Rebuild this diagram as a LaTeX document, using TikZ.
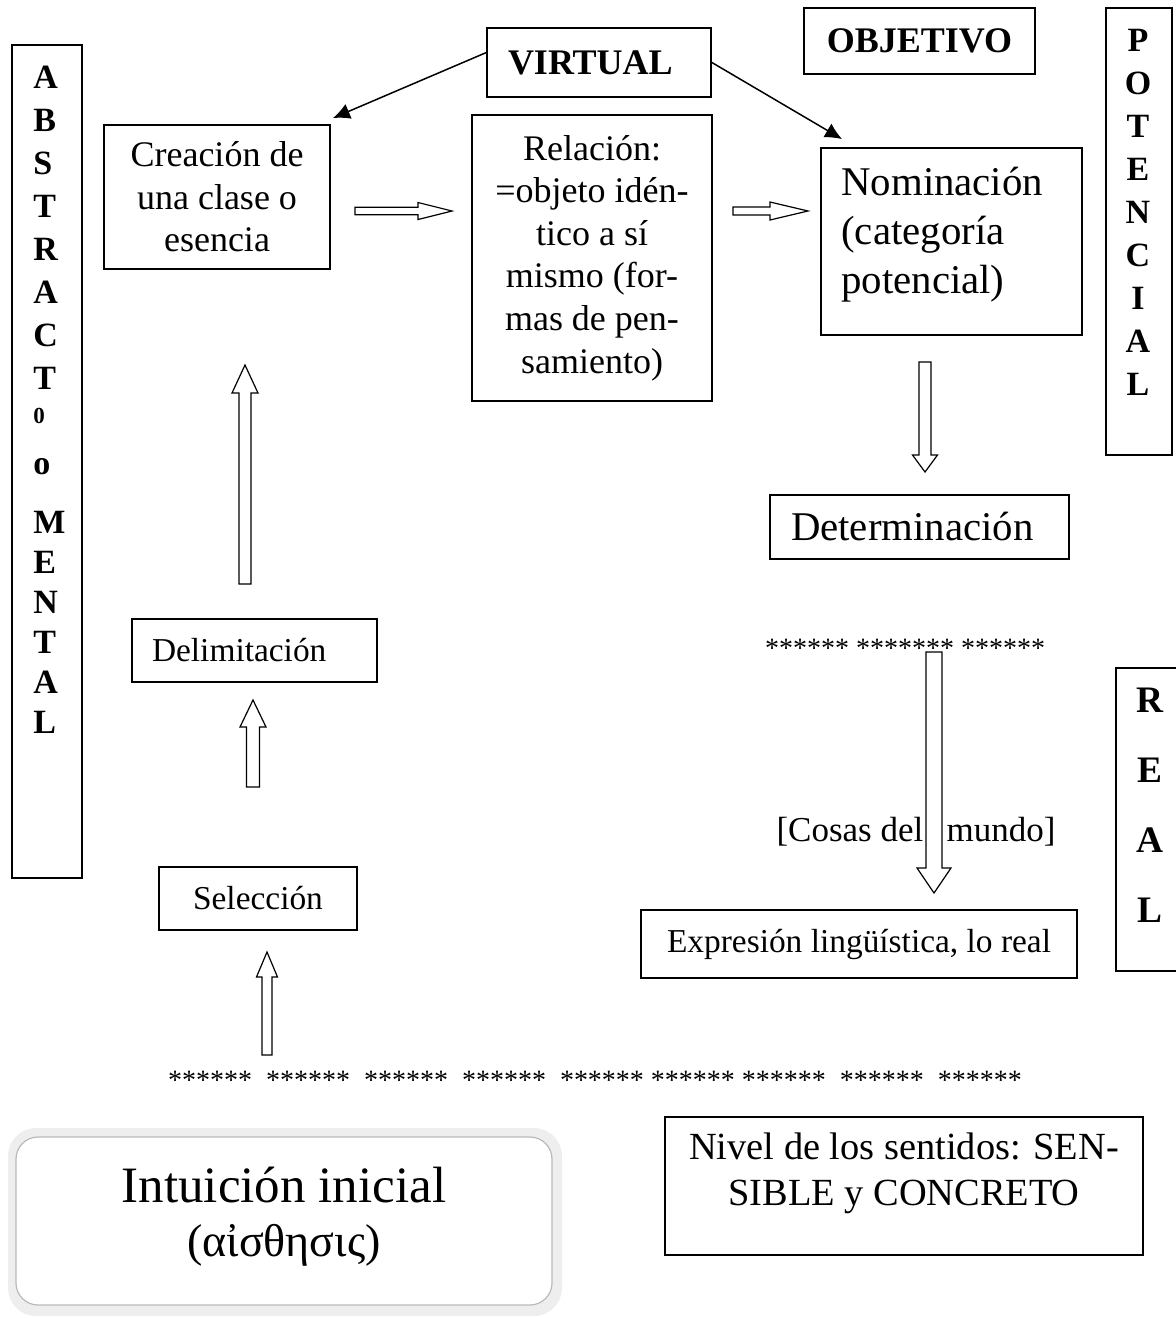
\documentclass[tikz,border=0pt]{standalone}
\usepackage{fontspec}
\setmainfont{Liberation Serif}
\usetikzlibrary{calc}
\usetikzlibrary{arrows.meta}

\tikzset{
  caja/.style={draw, line width=.9pt, inner sep=0pt, align=center},
  flecha/.style={line width=.75pt, -{Latex[length=8.5pt,width=8pt]}},
  hueca/.style={draw, fill=white, line width=.6pt},
  letra/.style={inner sep=0pt, font=\fontsize{17}{17}\bfseries\selectfont},
}
% hollow block arrow: start, tip, shaft half width, head half width, head length
\newcommand{\huecaflecha}[5]{%
  \coordinate (hb) at ($(#2)!#5!(#1)$);
  \draw[hueca] ($(#1)!#3!90:(#2)$) -- ($(hb)!#3!90:(#2)$) -- ($(hb)!#4!90:(#2)$) -- (#2)
    -- ($(hb)!#4!-90:(#2)$) -- ($(hb)!#3!-90:(#2)$) -- ($(#1)!#3!-90:(#2)$) -- cycle;}

\begin{document}
\begin{tikzpicture}[x=.5pt,y=-.5pt]
\useasboundingbox (0,0) rectangle (1176,1318);

% side bands
\node[caja, minimum width=35pt, minimum height=416.5pt] (abst) at (47,461.5) {};
\foreach \l [count=\i] in {A,B,S,T,R,A,C,T}
  \node[letra, anchor=west] (abs\i) at (33,{77+43*(\i-1)}) {\l};
\node[letra, anchor=west, font=\fontsize{11.5}{11.5}\bfseries\selectfont] (cero) at (33,416) {0};
\node[letra, anchor=west] (conj) at (33,467) {o};
\foreach \l [count=\i] in {M,E,N,T,A,L}
  \node[letra, anchor=west] (men\i) at (33,{522+40*(\i-1)}) {\l};

\node[caja, minimum width=33pt, minimum height=223.5pt] (pot) at (1139,231.5) {};
\foreach \l [count=\i] in {P,O,T,E,N,C,I,A,L}
  \node[letra] (pot\i) at (1138,{40+43*(\i-1)}) {\l};

\node[caja, minimum width=37pt, minimum height=151.5pt] (real) at (1153,819.5) {};
\foreach \l [count=\i] in {R,E,A,L}
  \node[letra, font=\fontsize{18.7}{18.7}\bfseries\selectfont] (real\i) at (1150,{700+70*(\i-1)}) {\l};

% top labels
\node[caja, inner xsep=10.5pt, text width=91pt, align=left, minimum height=34.5pt,
  font=\fontsize{18}{18}\bfseries\selectfont] (virtual) at (599,62.5) {VIRTUAL};
\node[caja, minimum width=115.5pt, minimum height=33pt,
  font=\fontsize{18}{18}\bfseries\selectfont] (objetivo) at (919.5,41) {OBJETIVO};

% boxes
\node[caja, minimum width=113pt, minimum height=72pt, font=\fontsize{18}{21.3}\selectfont]
  (crea) at (217,197) {Creación de\\una clase o\\esencia};
\node[caja, minimum width=120pt, minimum height=143pt, font=\fontsize{18}{21.3}\selectfont]
  (rela) at (592,258) {Relación:\\=objeto idén-\\tico a sí\\mismo (for-\\mas de pen-\\samiento)};
\node[caja, minimum width=130.5pt, minimum height=93.5pt] (nomi) at (951.5,241.5) {};
\node[inner sep=0pt, anchor=west, align=left, font=\fontsize{20.4}{24.5}\selectfont]
  (nomitxt) at (841,235) {Nominación\\(categoría\\potencial)};
\node[caja, inner xsep=10.5pt, text width=128.5pt, align=left, minimum height=32pt,
  font=\fontsize{20.4}{20.4}\selectfont] (deter) at (919.5,527) {Determinación};
\node[caja, inner xsep=10pt, text width=102.5pt, align=left, minimum height=31.5pt,
  font=\fontsize{16.7}{16.7}\selectfont] (delim) at (254.5,650.5) {Delimitación};
\node[caja, minimum width=99pt, minimum height=31.5pt, font=\fontsize{16.7}{16.7}\selectfont]
  (selec) at (258,898.5) {Selección};
\node[caja, minimum width=218pt, minimum height=34pt, font=\fontsize{16.7}{16.7}\selectfont]
  (expre) at (859,944) {Expresión lingüística, lo real};
\node[caja, minimum width=239pt, minimum height=69pt] (nivel) at (904,1186) {};
\node[inner sep=0pt, align=center, font=\fontsize{19.2}{23}\selectfont]
  (niveltxt) at (904,1173) {Nivel de los sentidos: SEN-\\SIBLE y CONCRETO};

% stars and world
\node[inner sep=0pt, font=\fontsize{14}{14}\selectfont] (estr1) at (905,648) {****** ******* ******};
\node[inner sep=0pt, font=\fontsize{14}{14}\selectfont] (estr2) at (595,1080)
  {******~ ******~ ******~ ******~ ****** ****** ******~ ******~ ******};
\node[inner sep=0pt, font=\fontsize{17.5}{17.5}\selectfont] (cosas) at (916,832)
  {[Cosas del\hspace{11.6pt}mundo]};

% intuition frame
\fill[gray!13, rounded corners=14pt] (8,1128) rectangle (562,1316);
\node[draw=gray!55, fill=white, line width=.6pt, rounded corners=11pt, minimum width=268pt,
  minimum height=84pt] (intu) at (284,1221) {};
\node[inner sep=0pt, font=\fontsize{25.5}{25.5}\selectfont] (intu1) at (284,1185) {Intuición inicial};
\node[inner sep=0pt, font=\fontsize{23}{23}\selectfont] (intu2) at (284,1245) {(αἰσθησις)};

% thin arrows
\draw[flecha] (virtual.175) -- ($(crea.north east)+(2,-6)$);
\draw[flecha] (virtual.east) -- ($(nomi.north west)+(22,-8)$);

% hollow arrows
\coordinate (f1a) at (355,211); \coordinate (f1b) at (452,211);
\huecaflecha{f1a}{f1b}{1.9pt}{4.25pt}{17pt}
\coordinate (f2a) at (733,211); \coordinate (f2b) at (808,211);
\huecaflecha{f2a}{f2b}{2pt}{4.5pt}{19pt}
\coordinate (f3a) at (925,362); \coordinate (f3b) at (925,472);
\huecaflecha{f3a}{f3b}{3pt}{6.25pt}{8.5pt}
\coordinate (f4a) at (934,652); \coordinate (f4b) at (934,893);
\huecaflecha{f4a}{f4b}{4pt}{8.5pt}{12.5pt}
\coordinate (f5a) at (245,584); \coordinate (f5b) at (245,365);
\huecaflecha{f5a}{f5b}{3pt}{6.5pt}{14pt}
\coordinate (f6a) at (253,787); \coordinate (f6b) at (253,700);
\huecaflecha{f6a}{f6b}{3.25pt}{6.5pt}{13.5pt}
\coordinate (f7a) at (267,1055); \coordinate (f7b) at (267,952);
\huecaflecha{f7a}{f7b}{2.5pt}{5.25pt}{12.5pt}
\end{tikzpicture}
\end{document}
